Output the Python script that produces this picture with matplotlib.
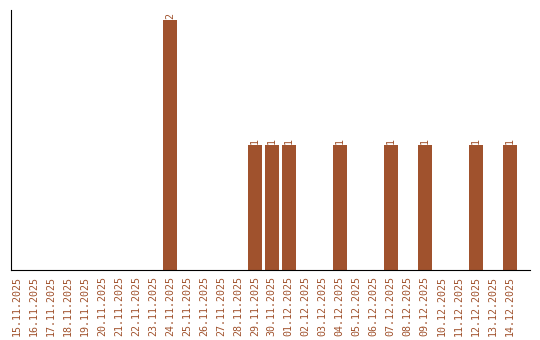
import matplotlib
matplotlib.use("Agg")
import matplotlib.pyplot as plt

dates = ["15.11.2025","16.11.2025","17.11.2025","18.11.2025","19.11.2025","20.11.2025",
         "21.11.2025","22.11.2025","23.11.2025","24.11.2025","25.11.2025","26.11.2025",
         "27.11.2025","28.11.2025","29.11.2025","30.11.2025","01.12.2025","02.12.2025",
         "03.12.2025","04.12.2025","05.12.2025","06.12.2025","07.12.2025","08.12.2025",
         "09.12.2025","10.12.2025","11.12.2025","12.12.2025","13.12.2025","14.12.2025"]
counts = [0,0,0,0,0,0,0,0,0,2,0,0,0,0,1,1,1,0,0,1,0,0,1,0,1,0,0,1,0,1]

color = "#A0522D"
fig = plt.figure(figsize=(5.4, 3.4), dpi=100)
ax = fig.add_axes([11/540, 70/340, 519/540, 260/340])
x = list(range(len(dates)))
ax.bar(x, counts, width=0.82, color=color)
for xi, v in zip(x, counts):
    if v > 0:
        ax.text(xi, v + 0.01, str(v), rotation=90, ha="center", va="bottom",
                color=color, fontsize=7.2, family="DejaVu Sans Mono")
ax.set_xlim(-0.35, 30.2)
ax.set_ylim(0, 2.08)
ax.set_xticks(x)
ax.set_xticklabels(dates, rotation=90, color=color, fontsize=7.2, family="DejaVu Sans Mono")
ax.tick_params(axis="x", length=0, pad=4)
ax.set_yticks([])
ax.spines["top"].set_visible(False)
ax.spines["right"].set_visible(False)
fig.savefig("out.png", dpi=100)
